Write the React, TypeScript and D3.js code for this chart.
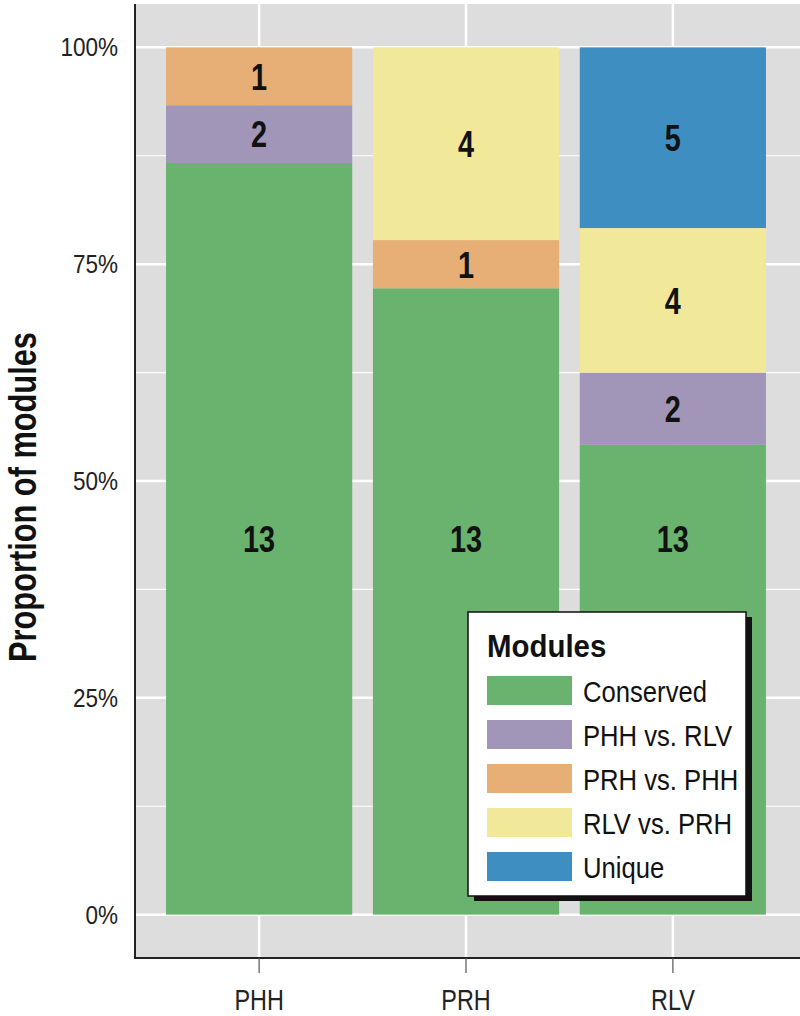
import * as d3 from "d3";
import type { ReactNode } from "react";

const categories = ["PHH", "PRH", "RLV"];
const seriesNames = ["Conserved", "PHH vs. RLV", "PRH vs. PHH", "RLV vs. PRH", "Unique"];
const colors = ["#6ab36e", "#a296b8", "#e7ae75", "#f2e899", "#3e8ec1"];

// module counts as drawn (bar heights), bottom to top
const conserved = [13, 13, 13];
const phhVsRlv = [1, 0, 2];
const prhVsPhh = [1, 1, 0];
const rlvVsPrh = [0, 4, 4];
const unique = [0, 0, 5];
// numbers printed inside the segments
const conservedLabels = ["13", "13", "13"];
const phhVsRlvLabels = ["2", "", "2"];
const prhVsPhhLabels = ["1", "1", ""];
const rlvVsPrhLabels = ["", "4", "4"];
const uniqueLabels = ["", "", "5"];

const yTicks = [0, 0.25, 0.5, 0.75, 1];
const yMinor = [0.125, 0.375, 0.625, 0.875];

const font = "'Liberation Sans', Arial, sans-serif";

type TProps = {
  x: number;
  y: number;
  size: number;
  sx?: number;
  bold?: boolean;
  anchor?: "start" | "middle" | "end";
  rotate?: number;
  fill?: string;
  children: ReactNode;
};

// condensed text: a regular face squeezed horizontally
function T({ x, y, size, sx = 0.8, bold, anchor = "start", rotate = 0, fill = "#111", children }: TProps) {
  return (
    <g transform={`translate(${x},${y}) rotate(${rotate}) scale(${sx},1)`}>
      <text
        dy="0.36em"
        textAnchor={anchor}
        fontFamily={font}
        fontWeight={bold ? "bold" : "normal"}
        fontSize={size}
        fill={fill}
      >
        {children}
      </text>
    </g>
  );
}

export default function App() {
  const width = 800;
  const height = 1016;
  const panel = { left: 135, right: 797, top: 4, bottom: 958 };

  const series = [conserved, phhVsRlv, prhVsPhh, rlvVsPrh, unique];
  const labels = [conservedLabels, phhVsRlvLabels, prhVsPhhLabels, rlvVsPrhLabels, uniqueLabels];

  const rows = categories.map((c, i) => {
    const row: Record<string, number | string> = { cat: c };
    seriesNames.forEach((s, j) => (row[s] = series[j][i]));
    return row;
  });
  const stacked = d3
    .stack<Record<string, number | string>>()
    .keys(seriesNames)
    .offset(d3.stackOffsetExpand)(rows as any);

  const x = d3
    .scalePoint<string>()
    .domain(categories)
    .range([panel.left, panel.right])
    .padding(0.6);
  const bw = x.step() * 0.9;

  const y = d3.scaleLinear().domain([-0.05, 1.05]).range([panel.bottom, panel.top]);

  // the conserved counts share one label height (centre of the tallest conserved block)
  const conservedTop = d3.max(stacked[0], (d) => d[1]) as number;

  const legend = { x: 468, y: 612, w: 278, h: 284 };

  return (
    <svg width={width} height={height} style={{ position: "absolute", left: 0, top: 0 }}>
      <rect x={panel.left} y={panel.top} width={width - panel.left} height={panel.bottom - panel.top} fill="#dcdddc" />
      {yMinor.map((t) => (
        <line key={"m" + t} x1={panel.left} x2={width} y1={y(t)} y2={y(t)} stroke="#fff" strokeWidth={1.2} />
      ))}
      {yTicks.map((t) => (
        <line key={"g" + t} x1={panel.left} x2={width} y1={y(t)} y2={y(t)} stroke="#fff" strokeWidth={2.5} />
      ))}
      {categories.map((c) => (
        <line key={"v" + c} x1={x(c)} x2={x(c)} y1={panel.top} y2={panel.bottom} stroke="#fff" strokeWidth={2.5} />
      ))}

      {stacked.map((layer, j) =>
        layer.map((d, i) => {
          const cx = x(categories[i])!;
          const h = y(d[0]) - y(d[1]);
          if (h <= 0) return null;
          const ly = j === 0 ? (y(0) + y(conservedTop)) / 2 : (y(d[0]) + y(d[1])) / 2;
          return (
            <g key={j + "-" + i}>
              <rect x={cx - bw / 2} y={y(d[1])} width={bw} height={h} fill={colors[j]} />
              <T x={cx} y={ly} size={37} sx={0.78} bold anchor="middle">
                {labels[j][i]}
              </T>
            </g>
          );
        })
      )}

      {/* axes */}
      <line x1={panel.left} x2={panel.left} y1={panel.top} y2={panel.bottom + 1} stroke="#222" strokeWidth={2} />
      <line x1={panel.left} x2={width} y1={panel.bottom} y2={panel.bottom} stroke="#222" strokeWidth={2} />
      {categories.map((c) => (
        <g key={"xt" + c}>
          <line x1={x(c)} x2={x(c)} y1={panel.bottom} y2={panel.bottom + 15} stroke="#555" strokeWidth={1.2} />
          <T x={x(c)!} y={999} size={30} sx={0.78} anchor="middle" fill="#222">
            {c}
          </T>
        </g>
      ))}
      {yTicks.map((t) => (
        <T key={"yt" + t} x={118} y={y(t)} size={25} sx={0.9} anchor="end" fill="#222">
          {d3.format(".0%")(t)}
        </T>
      ))}
      <T x={22} y={497} size={38} sx={0.81} bold anchor="middle" rotate={-90}>
        Proportion of modules
      </T>

      {/* legend */}
      <rect x={legend.x + 6} y={legend.y + 5} width={legend.w} height={legend.h} fill="#111" />
      <rect x={legend.x} y={legend.y} width={legend.w} height={legend.h} fill="#fff" stroke="#111" strokeWidth={1.5} />
      <T x={487} y={645} size={32} sx={0.92} bold>
        Modules
      </T>
      {seriesNames.map((s, j) => (
        <g key={"lg" + s} transform={`translate(487,${690.5 + j * 44})`}>
          <rect x={0} y={-14.5} width={85} height={29} fill={colors[j]} />
          <T x={96} y={1} size={30} sx={0.855}>
            {s}
          </T>
        </g>
      ))}
    </svg>
  );
}
